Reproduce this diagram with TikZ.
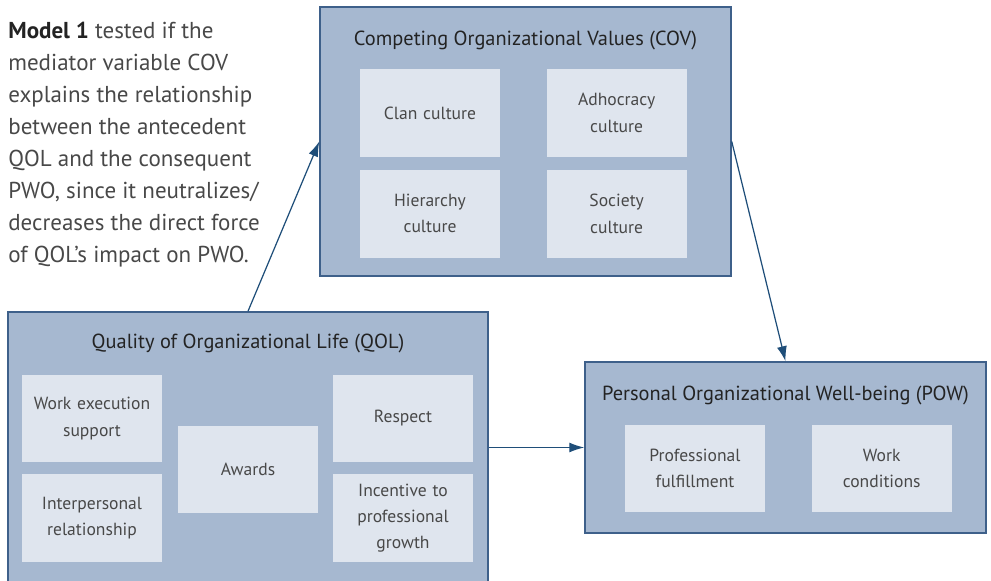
\documentclass[tikz,border=0pt]{standalone}
\usepackage{fontspec}
\setmainfont{PT Sans}
\usepackage{xcolor}
\usetikzlibrary{positioning,arrows.meta}
\definecolor{outerfill}{RGB}{166,184,208}
\definecolor{outerline}{RGB}{62,96,138}
\definecolor{innerfill}{RGB}{223,229,238}
\definecolor{arrowblue}{RGB}{31,78,121}
\definecolor{textgray}{RGB}{72,72,72}
\definecolor{titlegray}{RGB}{35,35,35}

\begin{document}
\begin{tikzpicture}[
    x=0.02cm, y=-0.02cm,
    node distance=0.24cm and 0.92cm,
    group/.style={rectangle, draw=outerline, fill=outerfill, line width=0.9pt, inner sep=0pt},
    factor/.style={rectangle, fill=innerfill, minimum width=2.8cm, minimum height=1.76cm, text width=2.7cm, inner sep=0pt, align=center, text=textgray, font=\fontsize{10}{15}\selectfont},
    title/.style={text=titlegray, font=\fontsize{11.6}{14}\selectfont},
    arrow/.style={-{Latex[length=0.3cm,width=0.2cm]}, draw=arrowblue, line width=0.7pt}
]
    \useasboundingbox (0,0) rectangle (991,581);

    \node[anchor=north west, inner sep=0pt, align=left, text=textgray, font=\fontsize{13.1}{18.2}\selectfont] (note) at (8,21.5)
        {\textcolor{titlegray}{\bfseries Model 1} tested if the\\ mediator variable COV\\ explains the relationship\\ between the antecedent\\ QOL and the consequent\\ PWO, since it neutralizes/\\ decreases the direct force\\ of QOL’s impact on PWO.};

    \node[group, minimum width=8.22cm, minimum height=5.38cm] (cov) at (525.5,141.5) {};
    \node[title] (covtitle) at (525.5,40) {Competing Organizational Values (COV)};
    \node[factor] (clan) at (430,113) {Clan culture};
    \node[factor, right=of clan] (adhoc) {Adhocracy\\ culture};
    \node[factor, below=of clan] (hier) {Hierarchy\\ culture};
    \node[factor, right=of hier] (society) {Society\\ culture};

    \node[group, minimum width=9.6cm, minimum height=5.66cm] (qol) at (248,453.5) {};
    \node[title] (qoltitle) at (248,343) {Quality of Organizational Life (QOL)};
    \node[factor] (work) at (92,418.5) {Work execution\\ support};
    \node[factor, below=0.22cm of work] (interp) {Interpersonal\\ relationship};
    \node[factor] (awards) at (248,469.5) {Awards};
    \node[factor] (respect) at (403,418.5) {Respect};
    \node[factor, below=0.22cm of respect] (incent) {Incentive to\\ professional\\ growth};

    \node[group, minimum width=8.02cm, minimum height=3.42cm] (pow) at (785.5,447.5) {};
    \node[title] (powtitle) at (785.5,395) {Personal Organizational Well-being (POW)};
    \node[factor] (prof) at (695,468.5) {Professional\\ fulfillment};
    \node[factor, right=of prof] (cond) {Work\\ conditions};

    \draw[arrow] (qol.north) -- (cov.west);
    \draw[arrow] (cov.east) -- (pow.north);
    \draw[arrow] (qol.east |- pow.west) -- (pow.west);
\end{tikzpicture}
\end{document}
